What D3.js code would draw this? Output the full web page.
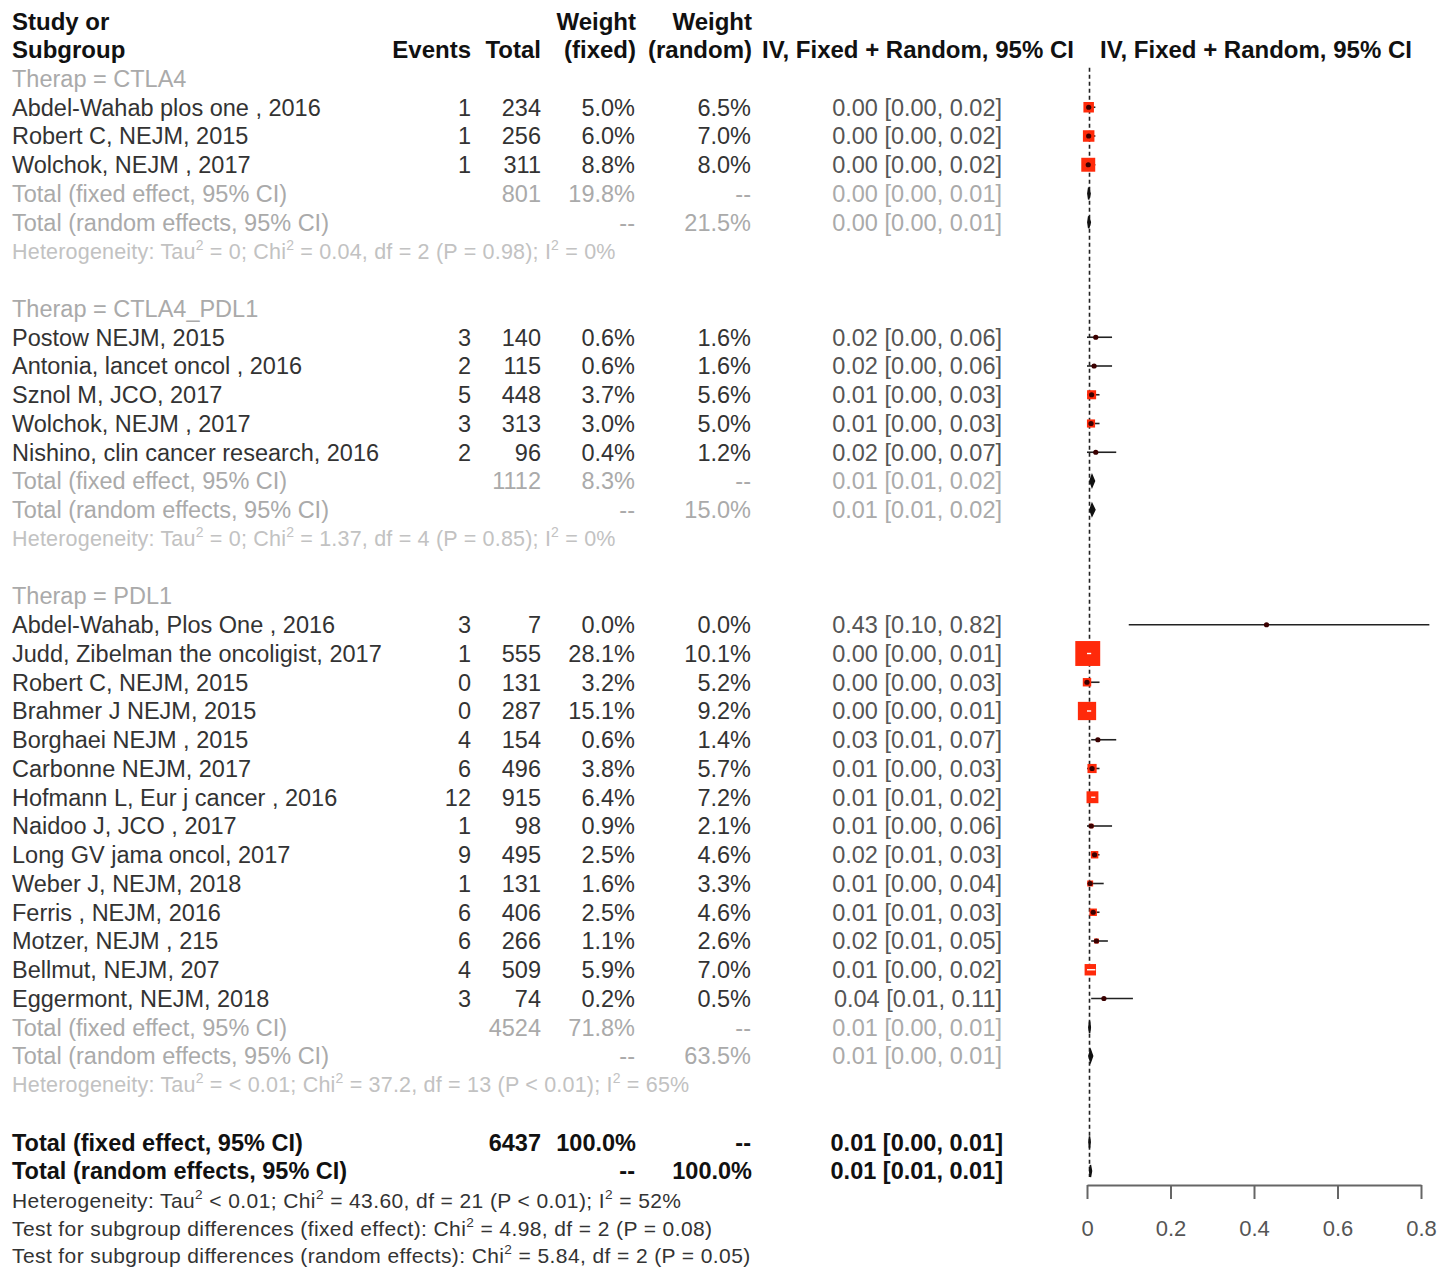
<!DOCTYPE html>
<html><head><meta charset="utf-8">
<script src="https://cdn.jsdelivr.net/npm/d3@7"></script>
<style>body{margin:0;background:#fff} svg{display:block} text{font-family:"Liberation Sans",Arial,sans-serif}</style>
</head><body><svg id="c" width="1441" height="1271"></svg>
<script>
// ---------- data ----------
const groupNames = ["CTLA4", "CTLA4_PDL1", "PDL1"];
const studyGroup = [0,0,0, 1,1,1,1,1, 2,2,2,2,2,2,2,2,2,2,2,2,2,2];
const studies = [
  "Abdel-Wahab plos one , 2016", "Robert C, NEJM, 2015", "Wolchok, NEJM , 2017",
  "Postow NEJM, 2015", "Antonia, lancet oncol , 2016", "Sznol M, JCO, 2017", "Wolchok, NEJM , 2017", "Nishino, clin cancer research, 2016",
  "Abdel-Wahab, Plos One , 2016", "Judd, Zibelman the oncoligist, 2017", "Robert C, NEJM, 2015", "Brahmer J NEJM, 2015",
  "Borghaei NEJM , 2015", "Carbonne NEJM, 2017", "Hofmann L, Eur j cancer , 2016", "Naidoo J, JCO , 2017",
  "Long GV jama oncol, 2017", "Weber J, NEJM, 2018", "Ferris , NEJM, 2016", "Motzer, NEJM , 215", "Bellmut, NEJM, 207", "Eggermont, NEJM, 2018"
];
const events = [1,1,1, 3,2,5,3,2, 3,1,0,0,4,6,12,1,9,1,6,6,4,3];
const totals = [234,256,311, 140,115,448,313,96, 7,555,131,287,154,496,915,98,495,131,406,266,509,74];
const weightFixed = [5.0,6.0,8.8, 0.6,0.6,3.7,3.0,0.4, 0.0,28.1,3.2,15.1,0.6,3.8,6.4,0.9,2.5,1.6,2.5,1.1,5.9,0.2];
const weightRandom = [6.5,7.0,8.0, 1.6,1.6,5.6,5.0,1.2, 0.0,10.1,5.2,9.2,1.4,5.7,7.2,2.1,4.6,3.3,4.6,2.6,7.0,0.5];
const estimate = [0.004,0.004,0.003, 0.021,0.017,0.011,0.0096,0.021, 0.43,0.0018,0.0,0.0,0.026,0.0121,0.0131,0.0102,0.0182,0.0076,0.0148,0.0226,0.0079,0.0405];
const ciLow  = [0,0,0, 0,0,0,0,0, 0.10,0,0,0,0.01,0,0.01,0,0.01,0,0.01,0.01,0,0.01];
const ciHigh = [0.02,0.02,0.02, 0.06,0.06,0.03,0.03,0.07, 0.82,0.01,0.03,0.01,0.07,0.03,0.02,0.06,0.03,0.04,0.03,0.05,0.02,0.11];

const groupTotal = [801, 1112, 4524];
const groupWF = [19.8, 8.3, 71.8];
const groupWR = [21.5, 15.0, 63.5];
const groupFixedEst = [0.004, 0.012, 0.0062];
const groupFixedLow = [0.002, 0.007, 0.0044];
const groupFixedHigh = [0.0075, 0.018, 0.008];
const groupRandEst = [0.004, 0.012, 0.0085];
const groupRandLow = [0.002, 0.007, 0.0045];
const groupRandHigh = [0.008, 0.019, 0.0135];
const groupHet = [
  "Heterogeneity: Tau² = 0; Chi² = 0.04, df = 2 (P = 0.98); I² = 0%",
  "Heterogeneity: Tau² = 0; Chi² = 1.37, df = 4 (P = 0.85); I² = 0%",
  "Heterogeneity: Tau² = < 0.01; Chi² = 37.2, df = 13 (P < 0.01); I² = 65%"
];
const overallTotal = 6437;
const overallFixed = [0.0060, 0.0047, 0.0076];
const overallRandom = [0.0082, 0.0062, 0.0108];
const overallTexts = [
  "Heterogeneity: Tau² < 0.01; Chi² = 43.60, df = 21 (P < 0.01); I² = 52%",
  "Test for subgroup differences (fixed effect): Chi² = 4.98, df = 2 (P = 0.08)",
  "Test for subgroup differences (random effects): Chi² = 5.84, df = 2 (P = 0.05)"
];
const axisTicks = [0, 0.2, 0.4, 0.6, 0.8];
const refValue = 0.006;

// ---------- layout ----------
const svg = d3.select("#c");
const x = d3.scaleLinear().domain([0, 0.8]).range([1087, 1421]);
const y = d3.scaleLinear().domain([0, 43]).range([21, 21 + 28.75 * 43]);
const FS = 23.5;
const col = {events: 471, total: 541, wf: 635, wr: 751, ci: 1002};
const fmt = v => v.toFixed(2);
const ciStr = (e, l, h) => `${fmt(e)} [${fmt(l)}, ${fmt(h)}]`;

function txt(xp, yp, s, o = {}) {
  return svg.append("text").attr("x", xp).attr("y", yp).attr("dy", "0.36em")
    .attr("text-anchor", o.anchor || "start")
    .attr("font-size", o.size || FS)
    .attr("font-weight", o.bold ? "bold" : "normal")
    .attr("fill", o.fill || "#333").text(s);
}
function supText(xp, yp, s, o) {
  const t = svg.append("text").attr("x", xp).attr("y", yp).attr("dy", "0.36em")
    .attr("font-size", o.size).attr("fill", o.fill)
    .attr("letter-spacing", o.ls || 0);
  const parts = s.split("²");
  parts.forEach((p, i) => {
    t.append("tspan").text(p).attr("dy", i === 0 ? null : 9);
    if (i < parts.length - 1) t.append("tspan").text("2").attr("font-size", o.size * 0.65).attr("dy", -9);
  });
  return t;
}

// header
const hb = {bold: true, fill: "#111", size: 24};
txt(12, y(0), "Study or", hb);
txt(12, y(1), "Subgroup", hb);
txt(col.wf + 1, y(0), "Weight", {...hb, anchor: "end"});
txt(col.wr + 1, y(0), "Weight", {...hb, anchor: "end"});
txt(col.events, y(1), "Events", {...hb, anchor: "end"});
txt(col.total, y(1), "Total", {...hb, anchor: "end"});
txt(col.wf + 1, y(1), "(fixed)", {...hb, anchor: "end"});
txt(col.wr + 1, y(1), "(random)", {...hb, anchor: "end"});
txt(762, y(1), "IV, Fixed + Random, 95% CI", hb);
txt(1100, y(1), "IV, Fixed + Random, 95% CI", hb);

// reference dashed line (drawn first, behind markers)
const plotG = svg.append("g");
plotG.append("line").attr("x1", x(refValue)).attr("x2", x(refValue))
  .attr("y1", y(1) + 18).attr("y2", y(40) + 6)
  .attr("stroke", "#222").attr("stroke-width", 1.6).attr("stroke-dasharray", "4,3");

function diamond(yc, e, l, h) {
  const hh = 6;
  plotG.append("path")
    .attr("d", `M${x(l)},${yc} L${x(e)},${yc - hh} L${x(h)},${yc} L${x(e)},${yc + hh} Z`)
    .attr("fill", "#111").attr("stroke", "#111").attr("stroke-width", 1.5);
}

let r = 2;
const gray = "#aaa", hetGray = "#c2c2c2";
groupNames.forEach((g, gi) => {
  txt(12, y(r), "Therap = " + g, {fill: gray}); r++;
  studies.forEach((s, i) => {
    if (studyGroup[i] !== gi) return;
    const yc = y(r);
    txt(12, yc, s);
    txt(col.events, yc, events[i], {anchor: "end"});
    txt(col.total, yc, totals[i], {anchor: "end"});
    txt(col.wf, yc, weightFixed[i].toFixed(1) + "%", {anchor: "end"});
    txt(col.wr, yc, weightRandom[i].toFixed(1) + "%", {anchor: "end"});
    txt(col.ci, yc, ciStr(estimate[i], ciLow[i], ciHigh[i]), {anchor: "end", fill: "#555"});
    // marker
    const side = 4.7 * Math.sqrt(weightFixed[i]);
    const xe = x(estimate[i]), xl = x(ciLow[i]), xh = x(ciHigh[i]);
    const inside = xl >= xe - side / 2 && xh <= xe + side / 2;
    plotG.append("line").attr("x1", xl).attr("x2", xh).attr("y1", yc).attr("y2", yc)
      .attr("stroke", "#222").attr("stroke-width", 1.6);
    if (side > 0) plotG.append("rect").attr("x", xe - side / 2).attr("y", yc - side / 2)
      .attr("width", side).attr("height", side).attr("fill", "#ff2a0a");
    if (inside) {
      plotG.append("line").attr("x1", xl).attr("x2", xh).attr("y1", yc).attr("y2", yc)
        .attr("stroke", "#fff").attr("stroke-width", 1.4);
    } else {
      plotG.append("circle").attr("cx", xe).attr("cy", yc).attr("r", 2.6).attr("fill", "#3a0000");
    }
    r++;
  });
  // totals
  txt(12, y(r), "Total (fixed effect, 95% CI)", {fill: gray});
  txt(col.total, y(r), groupTotal[gi], {anchor: "end", fill: gray});
  txt(col.wf, y(r), groupWF[gi].toFixed(1) + "%", {anchor: "end", fill: gray});
  txt(col.wr, y(r), "--", {anchor: "end", fill: gray});
  txt(col.ci, y(r), ciStr(groupFixedEst[gi], groupFixedLow[gi], groupFixedHigh[gi]), {anchor: "end", fill: gray});
  diamond(y(r), groupFixedEst[gi], groupFixedLow[gi], groupFixedHigh[gi]);
  r++;
  txt(12, y(r), "Total (random effects, 95% CI)", {fill: gray});
  txt(col.wf, y(r), "--", {anchor: "end", fill: gray});
  txt(col.wr, y(r), groupWR[gi].toFixed(1) + "%", {anchor: "end", fill: gray});
  txt(col.ci, y(r), ciStr(groupRandEst[gi], groupRandLow[gi], groupRandHigh[gi]), {anchor: "end", fill: gray});
  diamond(y(r), groupRandEst[gi], groupRandLow[gi], groupRandHigh[gi]);
  r++;
  supText(12, y(r), groupHet[gi], {size: 21.5, fill: hetGray, ls: 0.2});
  r += 2;
});

// overall
const b = {bold: true, fill: "#111"};
txt(12, y(r), "Total (fixed effect, 95% CI)", b);
txt(col.total, y(r), overallTotal, {...b, anchor: "end"});
txt(col.wf + 1, y(r), "100.0%", {...b, anchor: "end"});
txt(col.wr, y(r), "--", {...b, anchor: "end"});
txt(col.ci + 1, y(r), ciStr(...overallFixed), {...b, anchor: "end"});
diamond(y(r), ...overallFixed);
r++;
txt(12, y(r), "Total (random effects, 95% CI)", b);
txt(col.wf, y(r), "--", {...b, anchor: "end"});
txt(col.wr + 1, y(r), "100.0%", {...b, anchor: "end"});
txt(col.ci + 1, y(r), ciStr(...overallRandom), {...b, anchor: "end"});
diamond(y(r), ...overallRandom);
r++;
overallTexts.forEach((s, i) => {
  supText(12, y(r + i) + 1 - i * 1.5, s, {size: 21, fill: "#333", ls: 0.4});
});

// axis
const axis = d3.axisBottom(x).tickValues(axisTicks)
  .tickFormat(d => d === 0 ? "0" : d3.format(".1f")(d))
  .tickSize(14).tickSizeOuter(0).tickPadding(21);
const ag = svg.append("g").attr("transform", "translate(0,1185)").call(axis);
ag.select(".domain").attr("stroke", "#666").attr("stroke-width", 2);
ag.selectAll(".tick line").attr("stroke", "#666").attr("stroke-width", 2);
ag.selectAll(".tick text").attr("font-size", 22).attr("fill", "#555")
  .attr("font-family", '"Liberation Sans",Arial,sans-serif');
</script></body></html>
